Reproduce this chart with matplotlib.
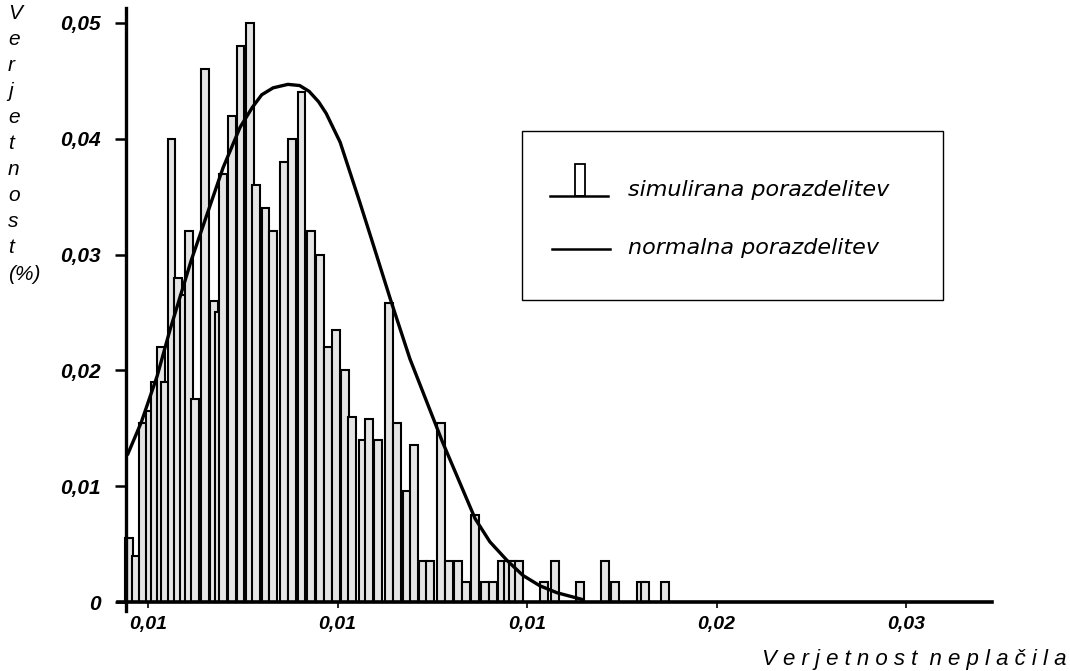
import matplotlib.pyplot as plt
from matplotlib.patches import Rectangle
from matplotlib.lines import Line2D

plt.rcParams['font.family'] = ['Liberation Sans', 'DejaVu Sans']

## simulated distribution: bar centres and heights
bin_x = [0.00450, 0.00468, 0.00488, 0.00504, 0.00518, 0.00533, 0.00545, 0.00562,
         0.00580, 0.00594, 0.00608, 0.00625, 0.00650, 0.00673, 0.00686, 0.00699,
         0.00722, 0.00744, 0.00768, 0.00785, 0.00810, 0.00831, 0.00860, 0.00879,
         0.00905, 0.00930, 0.00953, 0.00974, 0.00996, 0.01020, 0.01038, 0.01066,
         0.01084, 0.01107, 0.01137, 0.01158, 0.01183, 0.01203, 0.01226, 0.01244,
         0.01272, 0.01293, 0.01317, 0.01338, 0.01363, 0.01388, 0.01409, 0.01433,
         0.01449, 0.01462, 0.01480, 0.01546, 0.01573, 0.01641, 0.01707, 0.01732,
         0.01800, 0.01811, 0.01865]
bin_h = [0.0055, 0.0040, 0.0155, 0.0165, 0.0190, 0.0220, 0.0190, 0.0400,
         0.0280, 0.0265, 0.0320, 0.0175, 0.0460, 0.0260, 0.0250, 0.0370,
         0.0420, 0.0480, 0.0500, 0.0360, 0.0340, 0.0320, 0.0380, 0.0400,
         0.0440, 0.0320, 0.0300, 0.0220, 0.0235, 0.0200, 0.0160, 0.0140,
         0.0158, 0.0140, 0.0258, 0.0155, 0.0096, 0.0136, 0.0035, 0.0035,
         0.0155, 0.0035, 0.0035, 0.0017, 0.0075, 0.0017, 0.0017, 0.0035,
         0.0035, 0.0035, 0.0035, 0.0017, 0.0035, 0.0017, 0.0035, 0.0017,
         0.0017, 0.0017, 0.0017]

## normal distribution curve
curve_x = [0.00447, 0.00482, 0.00524, 0.00558, 0.00614, 0.00656, 0.00698, 0.00743,
           0.00775, 0.00800, 0.00830, 0.00869, 0.00900, 0.00925, 0.00950, 0.00970,
           0.01007, 0.01059, 0.01091, 0.01139, 0.01191, 0.01276, 0.01363, 0.01402,
           0.01447, 0.01489, 0.01534, 0.01579, 0.01648]
curve_y = [0.0128, 0.0155, 0.0195, 0.0235, 0.0295, 0.0335, 0.0375, 0.0410,
           0.0427, 0.0438, 0.0444, 0.0447, 0.0446, 0.0441, 0.0432, 0.0422,
           0.0397, 0.0345, 0.0312, 0.0262, 0.0210, 0.0139, 0.0072, 0.0052,
           0.0036, 0.0023, 0.0014, 0.0008, 0.0002]

y_ticks = [0, 0.01, 0.02, 0.03, 0.04, 0.05]
y_labels = ['0', '0,01', '0,02', '0,03', '0,04', '0,05']
x_ticks = [0.005, 0.010, 0.015, 0.020, 0.025]
x_labels = ['0,01', '0,01', '0,01', '0,02', '0,03']

W, H = 1070, 671
fig = plt.figure(figsize=(W/100, H/100), dpi=100)
ax = fig.add_axes([118/W, (H-611)/H, (992-118)/W, (611-8)/H])

ax.bar(bin_x, bin_h, width=0.00021, color='#e4e4e4', edgecolor='black',
       linewidth=1.5, zorder=2)
ax.plot(curve_x, curve_y, color='black', lw=2.4, zorder=3)

ax.set_xlim(0.004208, 0.027269)
ax.set_ylim(-0.000777, 0.051295)

for s in ['top', 'right']:
    ax.spines[s].set_visible(False)
ax.spines['left'].set_position(('data', 0.00442))
ax.spines['bottom'].set_position(('data', 0))
ax.spines['left'].set_linewidth(2.4)
ax.spines['bottom'].set_linewidth(2.6)

tick_font = dict(family='Liberation Sans', style='italic', weight='bold')
ax.set_yticks(y_ticks)
ax.set_yticklabels(y_labels, fontsize=15, **tick_font)
ax.set_xticks(x_ticks)
ax.set_xticklabels(x_labels, fontsize=14, **tick_font)
ax.tick_params(axis='y', direction='out', length=8, width=1.8, pad=10)
ax.tick_params(axis='x', direction='out', length=4, width=1.2, pad=6)

# axis titles
fig.text(8/W, 1 - 4/H, 'V\ne\nr\nj\ne\nt\nn\no\ns\nt\n(%)', ha='left', va='top',
         fontsize=15, style='italic', linespacing=1.47)
fig.text(1066/W, 1 - 660/H, 'V e r j e t n o s t  n e p l a č i l a',
         ha='right', va='center', fontsize=16, style='italic')

# legend drawn by hand
def fx(p):
    return p / W

def fy(p):
    return 1 - p / H

fig.add_artist(Rectangle((fx(522), fy(300)), fx(943) - fx(522), fy(131) - fy(300),
                         transform=fig.transFigure, fill=False, edgecolor='black', lw=1.0))
fig.add_artist(Line2D([fx(550), fx(608)], [fy(196), fy(196)], transform=fig.transFigure,
                      color='black', lw=1.8))
fig.add_artist(Rectangle((fx(575), fy(196)), fx(585) - fx(575), fy(164) - fy(196),
                         transform=fig.transFigure, facecolor='white', edgecolor='black', lw=1.3))
fig.add_artist(Line2D([fx(552), fx(610)], [fy(249), fy(249)], transform=fig.transFigure,
                      color='black', lw=1.8))
fig.text(fx(628), fy(190), 'simulirana porazdelitev', ha='left', va='center',
         fontsize=16, style='italic', family=['DejaVu Sans'])
fig.text(fx(628), fy(248), 'normalna porazdelitev', ha='left', va='center',
         fontsize=16, style='italic', family=['DejaVu Sans'])

fig.savefig('out.png', dpi=100)
